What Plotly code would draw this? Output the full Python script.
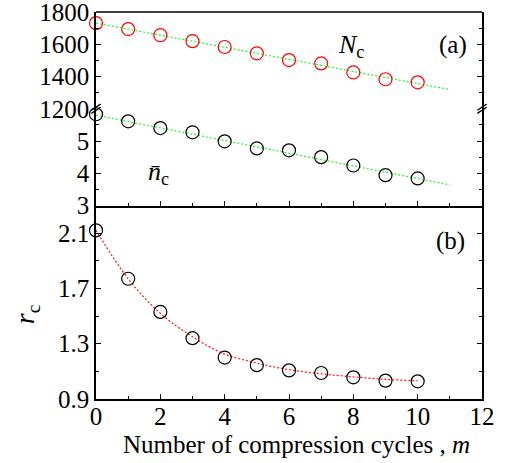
import plotly.graph_objects as go

# ---- data ----
cycles = [0, 1, 2, 3, 4, 5, 6, 7, 8, 9, 10]
N_c = [1731, 1694, 1656, 1619, 1583, 1544, 1502, 1481, 1425, 1383, 1364]
n_bar_c = [5.83, 5.61, 5.40, 5.27, 4.99, 4.77, 4.71, 4.50, 4.24, 3.94, 3.84]
r_c = [2.12, 1.77, 1.53, 1.34, 1.20, 1.145, 1.107, 1.088, 1.057, 1.033, 1.028]

fit_x_lin = [0, 11]
N_c_fit = [1731, 1319]
n_bar_c_fit = [5.80, 3.64]

r_c_fit_x = [0, 1, 2, 3, 4, 5, 6, 7, 8, 9, 10]
r_c_fit = [2.12, 1.77, 1.52, 1.35, 1.225, 1.16, 1.112, 1.082, 1.06, 1.042, 1.032]

x_tickvals = [0, 2, 4, 6, 8, 10, 12]

FONT = "Liberation Serif, Times New Roman, Times, serif"
GREEN = "#2ef02e"
RED = "#ff1010"
DOTS = "2px,2px"

fig = go.Figure()

fig.add_trace(go.Scatter(x=fit_x_lin, y=N_c_fit, mode="lines", xaxis="x3", yaxis="y3",
                         line=dict(color=GREEN, width=1.2, dash=DOTS), showlegend=False))
fig.add_trace(go.Scatter(x=cycles, y=N_c, mode="markers", xaxis="x3", yaxis="y3", cliponaxis=False,
                         marker=dict(symbol="circle-open", size=13, color="red", line=dict(width=1.2)),
                         showlegend=False))
fig.add_trace(go.Scatter(x=fit_x_lin, y=n_bar_c_fit, mode="lines", xaxis="x2", yaxis="y2",
                         line=dict(color=GREEN, width=1.2, dash=DOTS), showlegend=False))
fig.add_trace(go.Scatter(x=cycles, y=n_bar_c, mode="markers", xaxis="x2", yaxis="y2", cliponaxis=False,
                         marker=dict(symbol="circle-open", size=13, color="black", line=dict(width=1.2)),
                         showlegend=False))
fig.add_trace(go.Scatter(x=r_c_fit_x, y=r_c_fit, mode="lines", xaxis="x", yaxis="y",
                         line=dict(color=RED, width=1.2, dash=DOTS, shape="spline"), showlegend=False))
fig.add_trace(go.Scatter(x=cycles, y=r_c, mode="markers", xaxis="x", yaxis="y", cliponaxis=False,
                         marker=dict(symbol="circle-open", size=13, color="black", line=dict(width=1.2)),
                         showlegend=False))

tickfont = dict(family=FONT, size=25, color="black")
line_common = dict(showline=True, linecolor="black", linewidth=1.5, showgrid=False, zeroline=False)
tick_common = dict(ticks="inside", tickcolor="black", tickwidth=1.2, ticklen=5)
minor_common = dict(ticks="inside", ticklen=3, tickcolor="black", tickwidth=1.2, showgrid=False)

b_top = 0.5
a_mid = 0.75

fig.update_layout(
    width=507, height=463,
    margin=dict(l=96, r=25, t=12, b=64),
    paper_bgcolor="white", plot_bgcolor="white",
    font=dict(family=FONT, color="black"),
    xaxis=dict(**line_common, **tick_common, tickfont=tickfont, domain=[0, 1], anchor="y", range=[0, 12],
               tickmode="array", tickvals=x_tickvals, mirror=False, automargin=False,
               ticklabelstandoff=-6, ticklabeloverflow="allow",
               minor=dict(**minor_common, dtick=1, tick0=0)),
    yaxis=dict(**line_common, **tick_common, tickfont=tickfont, domain=[0, b_top], anchor="x",
               range=[0.9, 2.3], automargin=False, ticklabeloverflow="allow",
               tickmode="array", tickvals=[0.9, 1.3, 1.7, 2.1], ticktext=["0.9", "1.3", "1.7", "2.1"],
               mirror="ticks",
               minor=dict(**minor_common, tickmode="array", tickvals=[1.1, 1.5, 1.9])),
    xaxis2=dict(**line_common, **tick_common, domain=[0, 1], anchor="y2",
                range=[0, 12], tickmode="array", tickvals=x_tickvals, showticklabels=False,
                minor=dict(**minor_common, dtick=1, tick0=0)),
    yaxis2=dict(**line_common, **tick_common, tickfont=tickfont, domain=[b_top, a_mid], anchor="x2",
                range=[3, 6], automargin=False, ticklabeloverflow="allow",
                tickmode="array", tickvals=[3, 4, 5], mirror="ticks",
                minor=dict(**minor_common, tickmode="array", tickvals=[3.5, 4.5, 5.5])),
    xaxis3=dict(showline=False, showgrid=False, zeroline=False, domain=[0, 1], anchor="y3",
                range=[0, 12], showticklabels=False, ticks=""),
    yaxis3=dict(**line_common, **tick_common, tickfont=tickfont, domain=[a_mid, 1], anchor="x3",
                range=[1200, 1800], automargin=False, ticklabeloverflow="allow",
                tickmode="array", tickvals=[1200, 1400, 1600, 1800], mirror="ticks",
                minor=dict(**minor_common, tickmode="array", tickvals=[1300, 1500, 1700])),
)

# top frame line of panel (a)
fig.add_shape(type="line", xref="paper", yref="paper", x0=0, x1=1, y0=1, y1=1,
              line=dict(color="black", width=1.5))

# break marks on left and right axes
for xp in (0, 1):
    for dy in (-0.004, 0.004):
        fig.add_shape(type="line", xref="paper", yref="paper",
                      x0=xp - 0.012, x1=xp + 0.012, y0=a_mid + dy - 0.008, y1=a_mid + dy + 0.008,
                      line=dict(color="black", width=1.3))

# axis titles
fig.add_annotation(text="Number of compression cycles , <i>m</i>", xref="paper", yref="paper",
                   x=0.52, y=-0.118, xanchor="center", yanchor="middle", showarrow=False,
                   font=dict(family=FONT, size=25, color="black"))
fig.add_annotation(text="<i>r</i><sub>c</sub>", xref="paper", yref="y", x=-0.18, y=1.51,
                   xanchor="center", yanchor="middle",
                   textangle=-90, showarrow=False, font=dict(family=FONT, size=28, color="black"))

ann_font = dict(family=FONT, size=25, color="black")
fig.add_annotation(text="<i>N</i><sub>c</sub>", x=7.93, y=1590, xref="x3", yref="y3",
                   showarrow=False, font=dict(family=FONT, size=26, color="black"))
fig.add_annotation(text="(a)", x=11.1, y=1596, xref="x3", yref="y3", showarrow=False, font=ann_font)
fig.add_annotation(text="<i>n\u0304</i><sub>c</sub>", x=1.95, y=4.0, xref="x2", yref="y2",
                   showarrow=False, font=dict(family=FONT, size=26, color="black"))
fig.add_annotation(text="(b)", x=11.03, y=2.04, xref="x", yref="y", showarrow=False, font=ann_font)

fig.write_html("out.html", config={"displayModeBar": False},
               post_script="document.body.style.margin='0';")
